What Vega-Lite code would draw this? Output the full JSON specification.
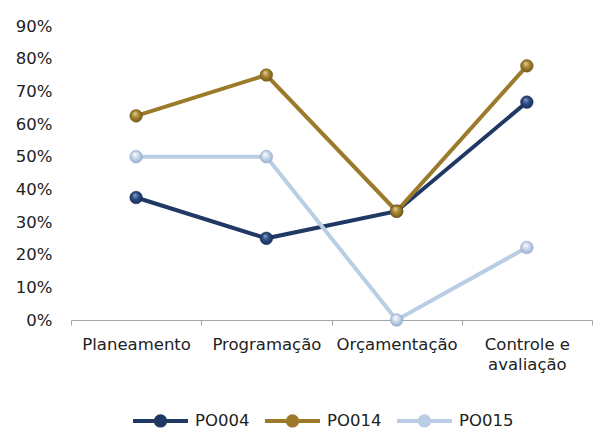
{
  "$schema": "https://vega.github.io/schema/vega-lite/v6.json",
  "width": 521,
  "height": 294,
  "autosize": {"type": "none"},
  "padding": {"left": 71, "top": 26, "right": 1, "bottom": 109},
  "background": "white",
  "config": {
    "view": {"stroke": null},
    "font": "DejaVu Sans",
    "axis": {"labelFont": "DejaVu Sans", "labelFontSize": 16.5, "labelColor": "#222222", "grid": false}
  },
  "data": {
    "values": [
      {"cat": "Planeamento", "serie": "PO004", "valor": 0.375},
      {"cat": "Programação", "serie": "PO004", "valor": 0.25},
      {"cat": "Orçamentação", "serie": "PO004", "valor": 0.333},
      {"cat": "Controle e avaliação", "serie": "PO004", "valor": 0.667},
      {"cat": "Planeamento", "serie": "PO014", "valor": 0.625},
      {"cat": "Programação", "serie": "PO014", "valor": 0.75},
      {"cat": "Orçamentação", "serie": "PO014", "valor": 0.333},
      {"cat": "Controle e avaliação", "serie": "PO014", "valor": 0.778},
      {"cat": "Planeamento", "serie": "PO015", "valor": 0.5},
      {"cat": "Programação", "serie": "PO015", "valor": 0.5},
      {"cat": "Orçamentação", "serie": "PO015", "valor": 0.0},
      {"cat": "Controle e avaliação", "serie": "PO015", "valor": 0.222}
    ]
  },
  "encoding": {
    "x": {
      "field": "cat", "type": "nominal", "sort": null, "bandPosition": 0.5,
      "scale": {"type": "band", "paddingInner": 0, "paddingOuter": 0},
      "axis": {
        "title": null, "labelAngle": 0, "tickBand": "extent", "domainColor": "#a6a6a6", "tickColor": "#a6a6a6",
        "tickSize": 5, "labelPadding": 11, "labelLineHeight": 20, "labelBaseline": "top",
        "labelExpr": "datum.label == 'Controle e avaliação' ? ['Controle e', 'avaliação'] : datum.label"
      }
    },
    "y": {
      "field": "valor", "type": "quantitative",
      "scale": {"domain": [0, 0.9], "nice": false},
      "axis": {"title": null, "format": ".0%", "values": [0,0.1,0.2,0.3,0.4,0.5,0.6,0.7,0.8,0.9], "domain": false, "ticks": false, "labelPadding": 19}
    }
  },
  "layer": [
    {
      "mark": {"type": "line", "strokeWidth": 4},
      "encoding": {
        "color": {
          "field": "serie", "type": "nominal",
          "scale": {"domain": ["PO004", "PO014", "PO015"], "range": ["#1f3864", "#9c7a2b", "#b9cde5"]},
          "legend": {
            "title": null, "orient": "none", "direction": "horizontal", "legendX": 60, "legendY": 365,
            "symbolType": "M-1,0L1,0M-0.17,0A0.17,0.17,0,1,1,0.17,0A0.17,0.17,0,1,1,-0.17,0Z",
            "symbolSize": 3025, "symbolStrokeWidth": 4, "labelFontSize": 16.5, "labelFont": "DejaVu Sans",
            "labelColor": "#222222", "labelOffset": 5, "columnPadding": 7,
            "encode": {"symbols": {"update": {"fill": {"scale": "color", "field": "value"}, "fillOpacity": {"value": 1}}}}
          }
        }
      }
    },
    {
      "transform": [{"filter": "datum.serie == 'PO004'"}],
      "mark": {"type": "point", "filled": true, "size": 160, "opacity": 1, "stroke": "#14264a", "strokeWidth": 0.5,
        "fill": {"gradient": "radial", "x1": 0.4, "y1": 0.3, "r1": 0, "x2": 0.5, "y2": 0.5, "r2": 0.6,
          "stops": [{"offset": 0, "color": "#8ea4cc"}, {"offset": 0.45, "color": "#2a4a80"}, {"offset": 1, "color": "#132a52"}]}}
    },
    {
      "transform": [{"filter": "datum.serie == 'PO014'"}],
      "mark": {"type": "point", "filled": true, "size": 160, "opacity": 1, "stroke": "#6e5418", "strokeWidth": 0.5,
        "fill": {"gradient": "radial", "x1": 0.4, "y1": 0.3, "r1": 0, "x2": 0.5, "y2": 0.5, "r2": 0.6,
          "stops": [{"offset": 0, "color": "#e8d39a"}, {"offset": 0.45, "color": "#a5832f"}, {"offset": 1, "color": "#6a5015"}]}}
    },
    {
      "transform": [{"filter": "datum.serie == 'PO015'"}],
      "mark": {"type": "point", "filled": true, "size": 160, "opacity": 1, "stroke": "#8ea4c0", "strokeWidth": 0.5,
        "fill": {"gradient": "radial", "x1": 0.4, "y1": 0.3, "r1": 0, "x2": 0.5, "y2": 0.5, "r2": 0.6,
          "stops": [{"offset": 0, "color": "#ffffff"}, {"offset": 0.45, "color": "#c8d8ec"}, {"offset": 1, "color": "#8ea6c6"}]}}
    }
  ]
}
